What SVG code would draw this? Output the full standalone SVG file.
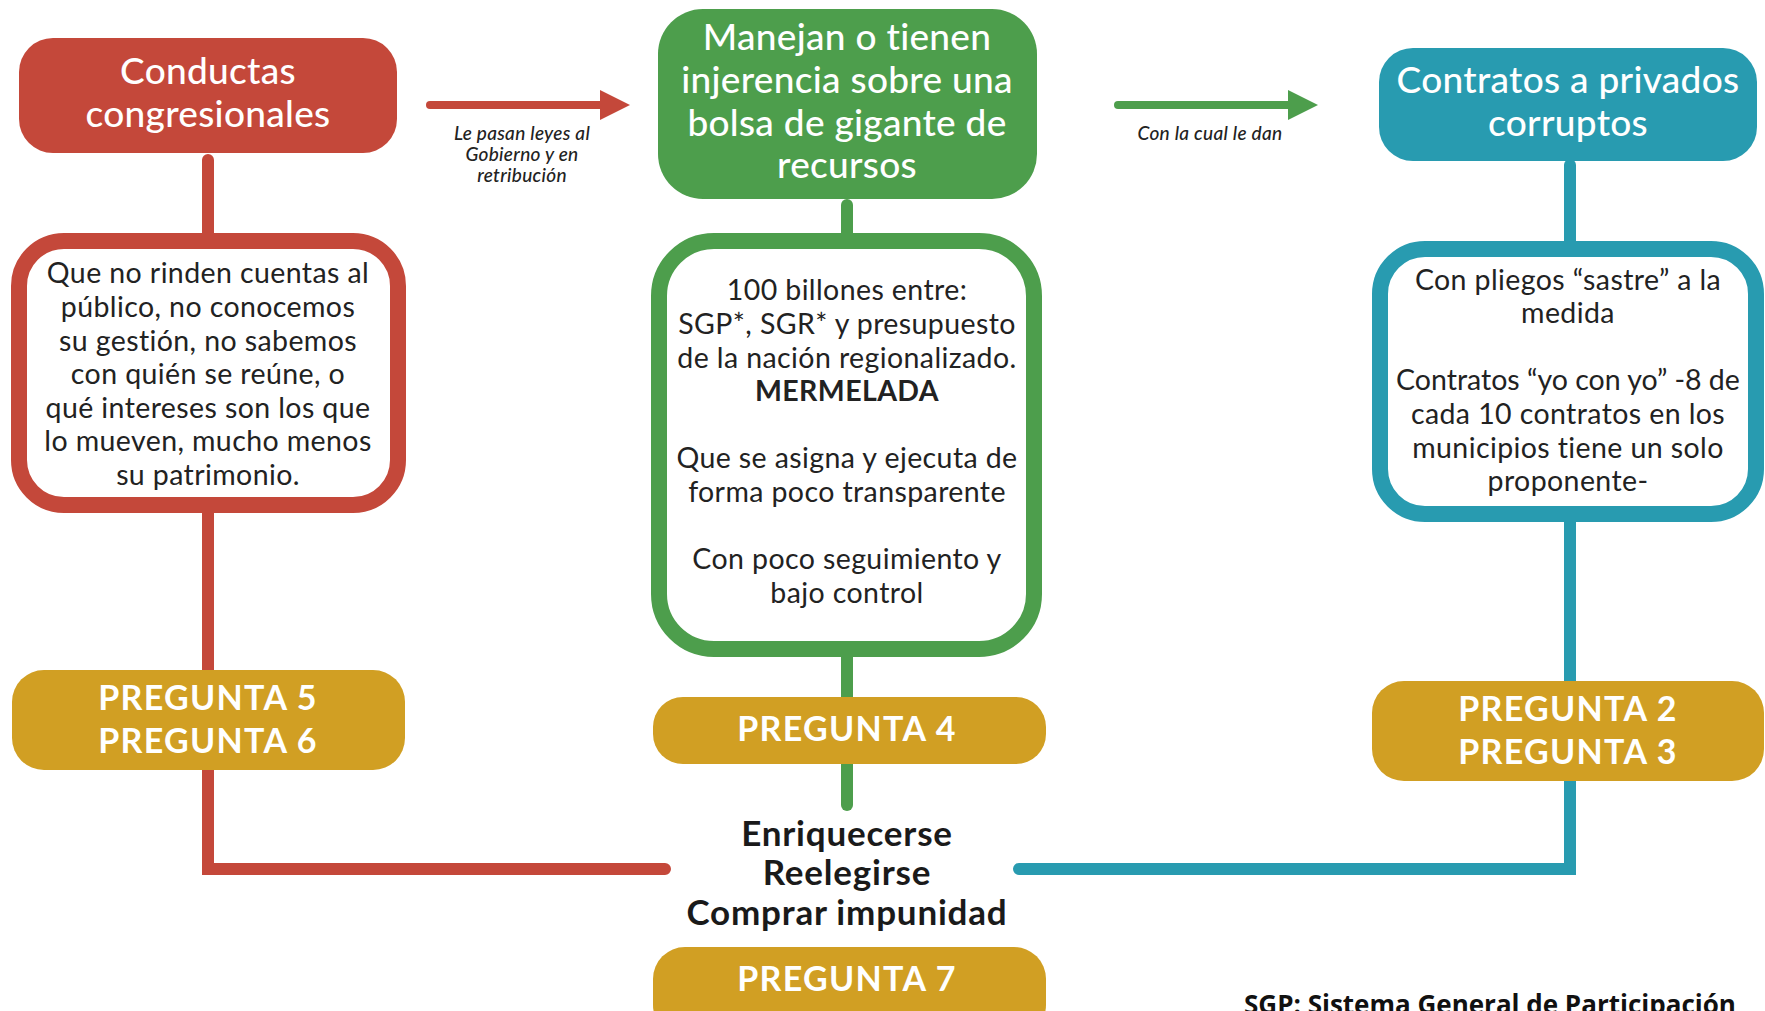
<svg xmlns="http://www.w3.org/2000/svg" width="1765" height="1011" viewBox="0 0 1765 1011">
<defs>
<style>
.hdr{font-family:Lato,"Noto Sans",sans-serif;font-size:37px;letter-spacing:0.3px;fill:#fff;text-anchor:middle;font-weight:500}
.body{font-family:Lato,"Noto Sans",sans-serif;font-size:28.5px;letter-spacing:0.4px;fill:#222;text-anchor:middle}
.q{font-family:Lato,"Noto Sans",sans-serif;font-size:34px;letter-spacing:1.3px;fill:#fff;text-anchor:middle;font-weight:700}
.goal{font-family:Lato,"Noto Sans",sans-serif;font-size:35px;letter-spacing:0.8px;fill:#1a1a1a;text-anchor:middle;font-weight:700}
.lbl{font-family:Lato,"Noto Sans",sans-serif;font-size:19px;letter-spacing:0.3px;fill:#222;text-anchor:middle;font-style:italic;font-weight:500}
.foot{font-family:"Open Sans","Noto Sans",sans-serif;font-size:26px;fill:#111;font-weight:700}
.red{fill:#C4483A}.green{fill:#4D9E4C}.blue{fill:#289BB0}.gold{fill:#D19F23}
.box{fill:#fff;stroke-width:16}
.conn{fill:none;stroke-width:12;stroke-linecap:round;stroke-linejoin:miter}
</style>
<marker id="ahRed" viewBox="0 0 30 30" markerUnits="userSpaceOnUse" markerWidth="30" markerHeight="30" refX="0" refY="15" orient="auto"><path d="M0,0 L30,15 L0,30 z" fill="#C4483A"/></marker>
<marker id="ahGreen" viewBox="0 0 30 30" markerUnits="userSpaceOnUse" markerWidth="30" markerHeight="30" refX="0" refY="15" orient="auto"><path d="M0,0 L30,15 L0,30 z" fill="#4D9E4C"/></marker>
</defs>
<rect width="1765" height="1011" fill="#fff"/>
<g id="connectors">
<path class="conn" stroke="#C4483A" d="M208,160 V869 H665"/>
<path class="conn" stroke="#4D9E4C" d="M847,205 V805"/>
<path class="conn" stroke="#289BB0" d="M1570,165 V869 H1019"/>
<path d="M430,105 H600" stroke="#C4483A" stroke-width="8" stroke-linecap="round" fill="none" marker-end="url(#ahRed)"/>
<path d="M1118,105 H1288" stroke="#4D9E4C" stroke-width="8" stroke-linecap="round" fill="none" marker-end="url(#ahGreen)"/>
<text class="lbl" x="522" y="140">Le pasan leyes al</text>
<text class="lbl" x="522" y="161">Gobierno y en</text>
<text class="lbl" x="522" y="182">retribución</text>
<text class="lbl" x="1210" y="140">Con la cual le dan</text>
</g>
<g id="n-conductas">
<rect class="red" x="19" y="38" width="378" height="115" rx="34"/>
<text class="hdr" x="208" y="84">Conductas</text>
<text class="hdr" x="208" y="127">congresionales</text>
</g>
<g id="n-manejan">
<rect class="green" x="658" y="9" width="379" height="190" rx="45"/>
<text class="hdr" x="847" y="50">Manejan o tienen</text>
<text class="hdr" x="847" y="93">injerencia sobre una</text>
<text class="hdr" x="847" y="136">bolsa de gigante de</text>
<text class="hdr" x="847" y="178">recursos</text>
</g>
<g id="n-contratos">
<rect class="blue" x="1379" y="48" width="378" height="113" rx="34"/>
<text class="hdr" x="1568" y="93">Contratos a privados</text>
<text class="hdr" x="1568" y="136">corruptos</text>
</g>
<g id="n-red-detail">
<rect class="box" stroke="#C4483A" x="19" y="241" width="379" height="264" rx="45"/>
<text class="body" x="208" y="283">Que no rinden cuentas al</text>
<text class="body" x="208" y="317">público, no conocemos</text>
<text class="body" x="208" y="351">su gestión, no sabemos</text>
<text class="body" x="208" y="384">con quién se reúne, o</text>
<text class="body" x="208" y="418">qué intereses son los que</text>
<text class="body" x="208" y="451">lo mueven, mucho menos</text>
<text class="body" x="208" y="485">su patrimonio.</text>
</g>
<g id="n-green-detail">
<rect class="box" stroke="#4D9E4C" x="659" y="241" width="375" height="408" rx="55"/>
<text class="body" x="847" y="300">100 billones entre:</text>
<text class="body" x="847" y="334">SGP*, SGR* y presupuesto</text>
<text class="body" x="847" y="368">de la nación regionalizado.</text>
<text class="body" x="847" y="401" font-weight="700">MERMELADA</text>
<text class="body" x="847" y="468">Que se asigna y ejecuta de</text>
<text class="body" x="847" y="502">forma poco transparente</text>
<text class="body" x="847" y="569">Con poco seguimiento y</text>
<text class="body" x="847" y="603">bajo control</text>
</g>
<g id="n-blue-detail">
<rect class="box" stroke="#289BB0" x="1380" y="249" width="376" height="265" rx="45"/>
<text class="body" x="1568" y="290">Con pliegos “sastre” a la</text>
<text class="body" x="1568" y="323">medida</text>
<text class="body" x="1568" y="390" style="letter-spacing:0px">Contratos “yo con yo” -8 de</text>
<text class="body" x="1568" y="424">cada 10 contratos en los</text>
<text class="body" x="1568" y="458">municipios tiene un solo</text>
<text class="body" x="1568" y="491">proponente-</text>
</g>
<g id="n-p56">
<rect class="gold" x="12" y="670" width="393" height="100" rx="32"/>
<text class="q" x="208" y="710">PREGUNTA 5</text>
<text class="q" x="208" y="753">PREGUNTA 6</text>
</g>
<g id="n-p4">
<rect class="gold" x="653" y="697" width="393" height="67" rx="30"/>
<text class="q" x="847" y="741">PREGUNTA 4</text>
</g>
<g id="n-p23">
<rect class="gold" x="1372" y="681" width="392" height="100" rx="32"/>
<text class="q" x="1568" y="721">PREGUNTA 2</text>
<text class="q" x="1568" y="764">PREGUNTA 3</text>
</g>
<g id="n-goal">
<text class="goal" x="847" y="846">Enriquecerse</text>
<text class="goal" x="847" y="885">Reelegirse</text>
<text class="goal" x="847" y="925">Comprar impunidad</text>
</g>
<g id="n-p7">
<rect class="gold" x="653" y="947" width="393" height="90" rx="32"/>
<text class="q" x="847" y="991">PREGUNTA 7</text>
</g>
<g id="footnote">
<text class="foot" x="1244" y="1014">SGP: Sistema General de Participación</text>
</g>
</svg>
